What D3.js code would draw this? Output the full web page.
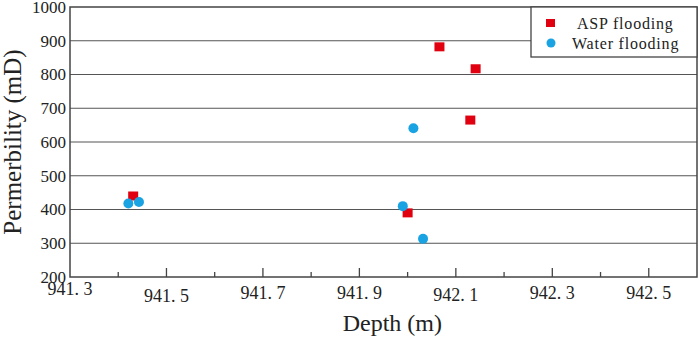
<!DOCTYPE html>
<html>
<head>
<meta charset="utf-8">
<script src="https://cdn.jsdelivr.net/npm/d3@7"></script>
<style>
  body { margin: 0; background: #fff; }
  svg text { font-family: "Times New Roman", Times, "Liberation Serif", serif; fill: #222; }
</style>
</head>
<body>
<svg id="chart" width="699" height="338"></svg>
<script>
// depth (m) and permeability (mD)
var aspDepth = [941.431, 942.0, 942.066, 942.141, 942.13];
var aspPerm = [440, 390, 882, 817, 665];
var waterDepth = [941.421, 941.443, 941.99, 942.032, 942.012];
var waterPerm = [418, 422, 410, 313, 641];
var yTicks = [200, 300, 400, 500, 600, 700, 800, 900, 1000];
var xLabels = [941.3, 941.5, 941.7, 941.9, 942.1, 942.3, 942.5];
var xMinor = [941.4, 941.6, 941.8, 942.0, 942.2, 942.4];

var margin = { top: 7, right: 2, bottom: 61, left: 70 },
  width = 699,
  height = 338,
  innerWidth = width - margin.left - margin.right,
  innerHeight = height - margin.top - margin.bottom;

var svg = d3.select("#chart");
var g = svg.append("g")
  .attr("transform", "translate(" + margin.left + "," + margin.top + ")");

var x = d3.scaleLinear().domain([941.3, 942.6]).range([0, innerWidth]);
var y = d3.scaleLinear().domain([200, 1000]).range([innerHeight, 0]);

// horizontal grid lines
g.selectAll(".grid")
  .data(yTicks.slice(1, -1))
  .enter().append("line")
  .attr("x1", 0).attr("x2", innerWidth)
  .attr("y1", function(d) { return y(d); })
  .attr("y2", function(d) { return y(d); })
  .attr("stroke", "#555").attr("stroke-width", 1.2);

// frame
g.append("rect")
  .attr("width", innerWidth).attr("height", innerHeight)
  .attr("fill", "none").attr("stroke", "#444").attr("stroke-width", 1.5);

// y axis labels
g.selectAll(".ylab")
  .data(yTicks)
  .enter().append("text")
  .attr("x", -4)
  .attr("y", function(d) { return y(d); })
  .attr("dy", "0.35em")
  .attr("text-anchor", "end")
  .style("font-size", "17px")
  .text(function(d) { return d; });

// x ticks pointing inward
g.selectAll(".xmaj")
  .data(xLabels.slice(1))
  .enter().append("line")
  .attr("x1", function(d) { return x(d); })
  .attr("x2", function(d) { return x(d); })
  .attr("y1", innerHeight).attr("y2", innerHeight - 9)
  .attr("stroke", "#444").attr("stroke-width", 1.3);

g.selectAll(".xmin")
  .data(xMinor)
  .enter().append("line")
  .attr("x1", function(d) { return x(d); })
  .attr("x2", function(d) { return x(d); })
  .attr("y1", innerHeight).attr("y2", innerHeight - 5)
  .attr("stroke", "#444").attr("stroke-width", 1.3);

// labels sit at slightly uneven heights in the original
var labelOffset = { "941.3": 12, "941.5": 18.5, "942.1": 18 };
g.selectAll(".xlab")
  .data(xLabels)
  .enter().append("text")
  .attr("x", function(d) { return x(d); })
  .attr("y", function(d) {
    var off = labelOffset[d.toFixed(1)];
    return innerHeight + (off ? off : 16);
  })
  .attr("dy", "0.35em")
  .attr("text-anchor", "middle")
  .style("font-size", "18px")
  .text(function(d) { return d.toFixed(1).replace(".", ". "); });

// axis titles
svg.append("text")
  .attr("transform", "translate(21," + (margin.top + innerHeight / 2) + ")rotate(-90)")
  .attr("text-anchor", "middle")
  .style("font-size", "25px")
  .text("Permerbility (mD)");

svg.append("text")
  .attr("x", margin.left + x(941.9) + 33)
  .attr("y", 331)
  .attr("text-anchor", "middle")
  .style("font-size", "24px")
  .text("Depth (m)");

// points
var asp = aspDepth.map(function(d, i) { return [d, aspPerm[i]]; });
var water = waterDepth.map(function(d, i) { return [d, waterPerm[i]]; });

g.selectAll(".asp")
  .data(asp)
  .enter().append("rect")
  .attr("x", function(d) { return x(d[0]) - 5; })
  .attr("y", function(d) { return y(d[1]) - 4.5; })
  .attr("width", 10).attr("height", 9)
  .attr("fill", "#e00010");

g.selectAll(".water")
  .data(water)
  .enter().append("circle")
  .attr("cx", function(d) { return x(d[0]); })
  .attr("cy", function(d) { return y(d[1]); })
  .attr("r", 5)
  .attr("fill", "#1aa3e3");

// legend
var lg = svg.append("g").attr("transform", "translate(531,7)");
lg.append("rect")
  .attr("width", 166).attr("height", 50)
  .attr("fill", "#fff").attr("stroke", "#444").attr("stroke-width", 1.3);
lg.append("rect")
  .attr("x", 15).attr("y", 12).attr("width", 9).attr("height", 8)
  .attr("fill", "#e00010");
lg.append("circle")
  .attr("cx", 20).attr("cy", 36).attr("r", 4.5)
  .attr("fill", "#1aa3e3");
lg.append("text")
  .attr("x", 46).attr("y", 16).attr("dy", "0.35em")
  .style("font-size", "16px").style("letter-spacing", "0.8px")
  .text("ASP flooding");
lg.append("text")
  .attr("x", 41).attr("y", 36).attr("dy", "0.35em")
  .style("font-size", "16px").style("letter-spacing", "0.8px")
  .text("Water flooding");
</script>
</body>
</html>
